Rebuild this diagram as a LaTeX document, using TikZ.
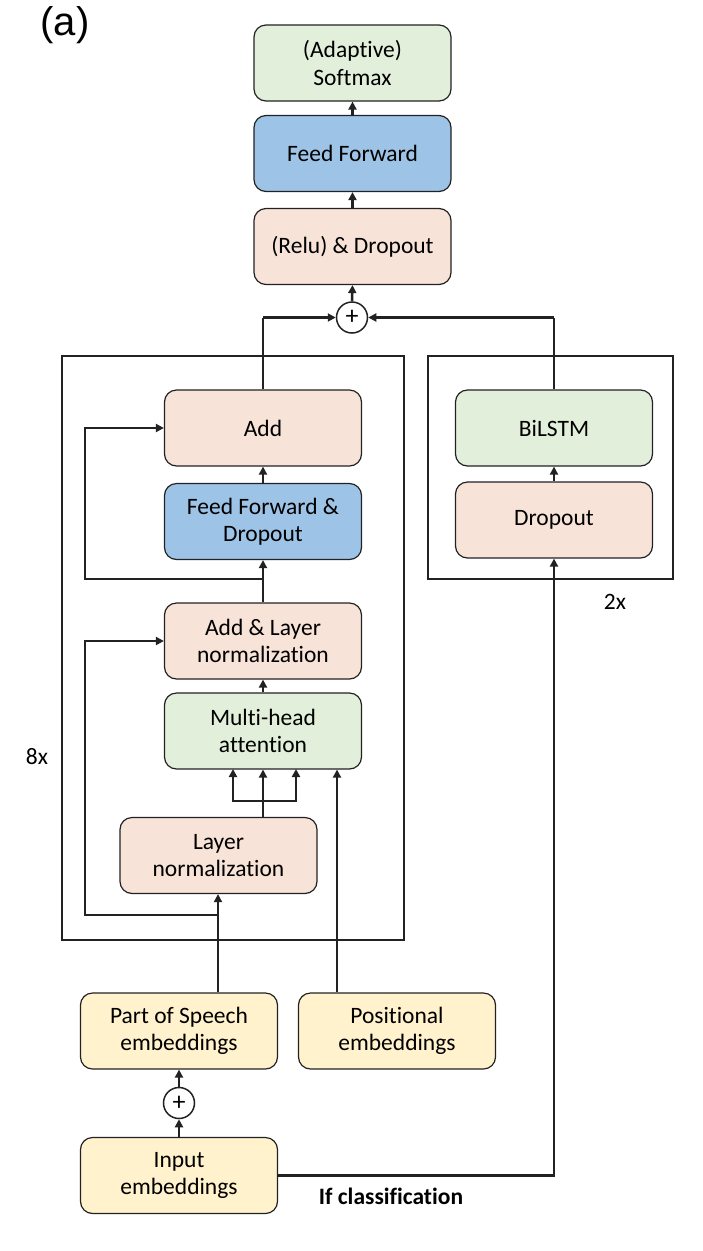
\documentclass[tikz,border=0pt]{standalone}
\usepackage{fontspec}
\setmainfont{Carlito}[Ligatures=NoCommon]
\newfontfamily\labfont{Liberation Sans}
\usetikzlibrary{arrows.meta}
\definecolor{cgreen}{HTML}{E2EFDA}
\definecolor{cblue}{HTML}{9DC3E6}
\definecolor{cpeach}{HTML}{F7E3D7}
\definecolor{cyellow}{HTML}{FFF2CC}
\definecolor{cline}{HTML}{222222}
\begin{document}
\begin{tikzpicture}[x=1pt,y=-1pt,
  box/.style={draw=cline, line width=1.2pt, rounded corners=12pt, minimum width=197pt, minimum height=76pt, align=center, inner sep=0pt, font=\fontsize{23.5}{27.5}\selectfont},
  greenbox/.style={box, fill=cgreen},
  bluebox/.style={box, fill=cblue},
  peachbox/.style={box, fill=cpeach},
  yellowbox/.style={box, fill=cyellow},
  plusnode/.style={draw=cline, circle, line width=1.5pt, minimum size=31pt, inner sep=0pt, fill=white, font=\fontsize{26}{26}\selectfont},
  frame/.style={draw=cline, line width=1.6pt},
  thick arrow/.style={draw=cline, line width=2.5pt, -{Triangle[length=8pt,width=8pt]}},
  thin line/.style={draw=cline, line width=1.3pt},
  thick line/.style={draw=cline, line width=2.5pt},
  lab/.style={font=\fontsize{23.5}{27.5}\selectfont, inner sep=0pt}
]
\useasboundingbox (0,0) rectangle (703,1251);

% frames
\draw[frame] (62,356) rectangle (404,940);
\draw[frame] (428,356) rectangle (673,579);

% top stack
\node[greenbox] (soft) at (352.5,63) {(Adaptive)\\Softmax};
\node[bluebox] (ff) at (352.5,153.5) {Feed Forward};
\node[peachbox] (relu) at (352.5,246.5) {(Relu) \& Dropout};
\node[plusnode] (plus1) at (352,317.5) {+};

% left block
\node[peachbox] (add) at (263,428) {Add};
\node[bluebox] (ffd) at (263,521.5) {Feed Forward \&\\Dropout};
\node[peachbox] (addln) at (263,641) {Add \& Layer\\normalization};
\node[greenbox] (mha) at (263,731) {Multi-head\\attention};
\node[peachbox] (ln) at (218.5,855.5) {Layer\\normalization};

% right block
\node[greenbox] (bilstm) at (554,428) {BiLSTM};
\node[peachbox] (drop) at (554,520) {Dropout};

% bottom
\node[yellowbox] (pos) at (179,1031) {Part of Speech\\embeddings};
\node[yellowbox] (posit) at (397,1031) {Positional\\embeddings};
\node[plusnode] (plus2) at (179,1103) {+};
\node[yellowbox] (inp) at (179,1175.5) {Input\\embeddings};

% labels
\node[font=\labfont\fontsize{40}{40}\selectfont, inner sep=0pt] (alab) at (65,25) {(a)};
\node[lab] (eightx) at (37,757) {8x};
\node[lab] (twox) at (615,602) {2x};
\node[lab, font=\fontsize{23.5}{27.5}\selectfont\bfseries] (ifc) at (391,1196) {If classification};

% top stack arrows
\draw[thick arrow] (ff.north) -- (soft.south);
\draw[thick arrow] (relu.north) -- (ff.south);
\draw[thick arrow] (plus1.north) -- (relu.south);

% into top plus
\coordinate (c1) at (263,317.5);
\coordinate (c2) at (554,317.5);
\draw[thin line] (add.north) -- (c1);
\draw[thick arrow] (c1) -- (plus1.west);
\draw[thin line] (bilstm.north) -- (c2);
\draw[thick arrow] (c2) -- (plus1.east);

% left block connections
\draw[thick arrow] (ffd.north) -- (add.south);
\coordinate (s1) at (263,579);
\draw[thick arrow] (addln.north) -- (ffd.south);
\draw[thick arrow] (s1) -| (85,428) -- (add.west);
\draw[thick arrow] (mha.north) -- (addln.south);

% layer norm to attention (three inputs)
\coordinate (br) at (263,801);
\draw[thick line] (ln.north -| br) -- (br);
\draw[thick arrow] (br) -| (233,769);
\draw[thick arrow] (br) -| (296,769);
\draw[thick arrow] (br) -- (mha.south);

% embeddings into encoder
\draw[thick arrow] (pos.north -| 218,0) -- (ln.south -| 218,0);
\coordinate (s2) at (218,915);
\draw[thick arrow] (s2) -| (85,641) -- (addln.west);
\draw[thick arrow] (posit.north -| 337,0) -- (mha.south -| 337,0);

% bottom
\draw[thick arrow] (inp.north) -- (plus2.south);
\draw[thick arrow] (plus2.north) -- (pos.south);
\draw[thick arrow] (inp.east) -| (drop.south);
\draw[thick arrow] (drop.north) -- (bilstm.south);

\end{tikzpicture}
\end{document}
